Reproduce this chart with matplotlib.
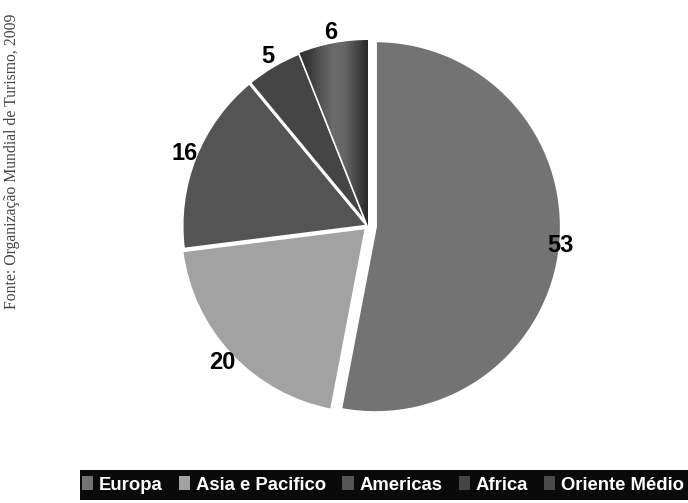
import numpy as np
import matplotlib
matplotlib.use('Agg')
import matplotlib.pyplot as plt
from matplotlib.patches import Rectangle, Patch

# tourist arrivals share by region (%)
regions = ['Europa', 'Asia e Pacifico', 'Americas', 'Africa', 'Oriente Médio']
shares = [53, 20, 16, 5, 6]
colors = ['#737373', '#a2a2a2', '#545454', '#454545', '#4a4a4a']
explode = [0.04, 0.012, 0, 0, 0]
source = 'Fonte: Organização Mundial de Turismo, 2009'

W, H = 688, 503
fig = plt.figure(figsize=(W / 100, H / 100), dpi=100)

# square axes centred on the pie, radius ~186 px
cx, cy, r_px, half = 368, H - 226, 186, 215
ax = fig.add_axes([(cx - half) / W, (cy - half) / H, 2 * half / W, 2 * half / H])
lim = half / r_px

wedges, texts, autotexts = ax.pie(
    shares, colors=colors, explode=explode, startangle=90, counterclock=False,
    autopct='%.0f', pctdistance=1.06,
    wedgeprops=dict(edgecolor='white', linewidth=2.2),
    textprops=dict(fontsize=17, fontweight='bold', family='Liberation Sans', color='black'))
ax.set_xlim(-lim, lim)
ax.set_ylim(-lim, lim)
ax.set_aspect('equal')
ax.axis('off')

# Europa label sits on the wedge edge
x0, y0 = autotexts[0].get_position()
autotexts[0].set_position((x0 - 0.06, y0))

# shaded fill for the Oriente Medio wedge
grad = np.array([0.18, 0.24, 0.34, 0.42, 0.40, 0.28, 0.16])
grad = np.interp(np.linspace(0, 6, 200), np.arange(7), grad)
img = ax.imshow(np.tile(grad, (10, 1)), cmap='gray', vmin=0, vmax=1,
                extent=[-0.37, 0.0, 0.0, 1.02], aspect='auto', zorder=1.5)
img.set_clip_path(wedges[4])
wedges[4].set_zorder(1)

# legend bar at the bottom
fig.patches.append(Rectangle((80 / W, 3 / H), (W - 80) / W, 30 / H,
                             transform=fig.transFigure, facecolor='#0a0a0a',
                             edgecolor='none', zorder=0))
handles = [Patch(facecolor=c, edgecolor='none') for c in colors]
leg = fig.legend(handles, regions, loc='center', bbox_to_anchor=(383 / W, 18 / H),
                 ncol=5, frameon=False, handlelength=0.6, handleheight=0.8,
                 handletextpad=0.3, columnspacing=0.9,
                 prop=dict(family='Liberation Sans', weight='bold', size=13.3))
for t in leg.get_texts():
    t.set_color('white')

fig.text(12 / W, 1 - 14 / H, source, rotation=90, ha='center', va='top',
         family='Liberation Serif', fontsize=11.3, color='#444444')

fig.savefig('out.png', dpi=100, facecolor='white')
